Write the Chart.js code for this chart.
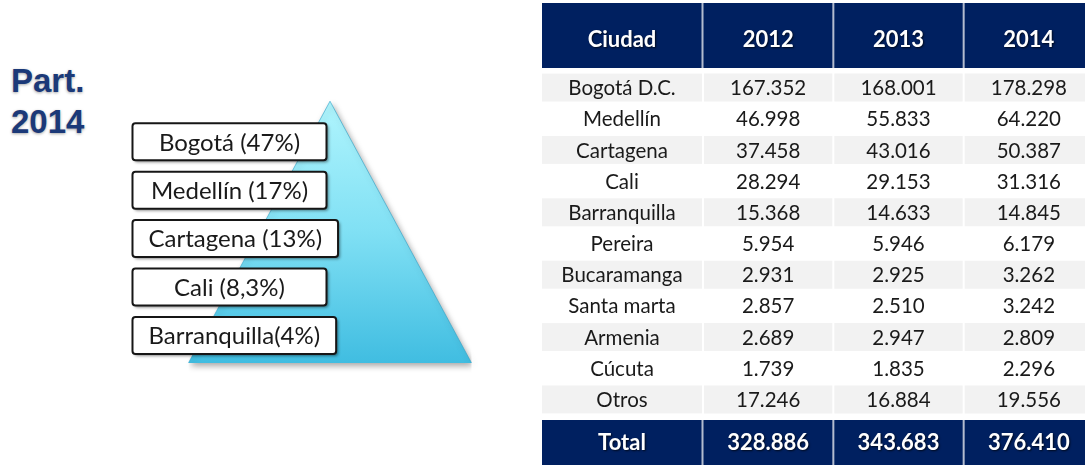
<!DOCTYPE html>
<html lang="es">
<head>
  <meta charset="UTF-8" />
  <title>Participación por ciudad 2012-2014</title>
  <script src="https://cdn.jsdelivr.net/npm/chart.js"></script>
  <style>
    html, body {
      margin: 0;
      padding: 0;
      background: #ffffff;
      width: 1085px;
      height: 465px;
      overflow: hidden;
    }
    #title {
      position: absolute;
      left: 11px;
      top: 60px;
      font: bold 33px "Liberation Sans", Arial, sans-serif;
      line-height: 41px;
      color: #1b3978;
      text-shadow: 0 1px 3px rgba(0, 0, 0, 0.35);
    }
    #pyramid-box {
      position: absolute;
      left: 0;
      top: 0;
      width: 530px;
      height: 465px;
    }
    #table-box {
      position: absolute;
      left: 540px;
      top: 0;
      width: 556px;
      height: 465px;
    }
  </style>
</head>
<body>
  <div id="title">Part.<br>2014</div>
  <div id="pyramid-box"><canvas id="pyramidChart"></canvas></div>
  <div id="table-box"><canvas id="tableChart"></canvas></div>

  <script>
    // pyramid (share 2014)
    const shareLabels = ['Bogotá (47%)', 'Medellín (17%)', 'Cartagena (13%)', 'Cali (8,3%)', 'Barranquilla(4%)'];
    const pyramidX = [0, 0.5, 1];
    const pyramidY = [0, 1, 0];

    // table
    const headerFirst = 'Ciudad';
    const totalLabel = 'Total';
    const years = ['2012', '2013', '2014'];
    const cities = ['Bogotá D.C.', 'Medellín', 'Cartagena', 'Cali', 'Barranquilla', 'Pereira',
                    'Bucaramanga', 'Santa marta', 'Armenia', 'Cúcuta', 'Otros'];
    const v2012 = [167352, 46998, 37458, 28294, 15368, 5954, 2931, 2857, 2689, 1739, 17246];
    const v2013 = [168001, 55833, 43016, 29153, 14633, 5946, 2925, 2510, 2947, 1835, 16884];
    const v2014 = [178298, 64220, 50387, 31316, 14845, 6179, 3262, 3242, 2809, 2296, 19556];
    const totals = [328886, 343683, 376410];

    const NAVY = '#002060';
    const ROW_GRAY = '#f2f2f2';
    const TEXT = '#1a1a1a';
    const valuesByYear = [v2012, v2013, v2014];

    function fmt(n) {
      return String(n).replace(/\B(?=(\d{3})+(?!\d))/g, '.');
    }

    // ---------- pyramid ----------
    const pyramidPlugin = {
      id: 'pyramidLabels',
      beforeDraw(chart) {
        const ctx = chart.ctx;
        ctx.save();
        ctx.shadowColor = 'rgba(0,0,0,0.35)';
        ctx.shadowBlur = 6;
        ctx.shadowOffsetX = 2;
        ctx.shadowOffsetY = 3;
      },
      afterDatasetsDraw(chart) {
        const { ctx, scales: { x, y } } = chart;
        ctx.restore();
        ctx.save();
        ctx.font = '24px Lato, "Open Sans", sans-serif';
        const left = x.getPixelForValue(0) - 56;
        const h = 37;
        shareLabels.forEach((t, i) => {
          const cy = y.getPixelForValue(0.845 - i * 0.185);
          const w = Math.max(194, ctx.measureText(t).width + 32);
          ctx.shadowColor = 'rgba(0,0,0,0.45)';
          ctx.shadowBlur = 3;
          ctx.shadowOffsetX = 2;
          ctx.shadowOffsetY = 2;
          ctx.beginPath();
          ctx.roundRect(left, cy - h / 2, w, h, 3);
          ctx.fillStyle = '#ffffff';
          ctx.fill();
          ctx.shadowColor = 'transparent';
          ctx.lineWidth = 2;
          ctx.strokeStyle = '#161616';
          ctx.stroke();
          ctx.fillStyle = TEXT;
          ctx.textAlign = 'center';
          ctx.textBaseline = 'middle';
          ctx.fillText(t, left + w / 2, cy + 1);
        });
        ctx.restore();
      }
    };

    new Chart(document.getElementById('pyramidChart'), {
      type: 'line',
      data: {
        datasets: [{
          label: 'Part. 2014',
          data: pyramidX.map((v, i) => ({ x: v, y: pyramidY[i] })),
          fill: 'origin',
          tension: 0,
          pointRadius: 0,
          borderWidth: 1,
          borderColor: 'rgba(40,160,200,0.6)',
          backgroundColor(context) {
            const { ctx, chartArea, scales } = context.chart;
            if (!chartArea) return '#7fdcf2';
            const g = ctx.createLinearGradient(0, scales.y.getPixelForValue(1), 0, scales.y.getPixelForValue(0));
            g.addColorStop(0, '#b0f5fd');
            g.addColorStop(0.5, '#80e0f4');
            g.addColorStop(1, '#40bde1');
            return g;
          }
        }]
      },
      options: {
        responsive: true,
        maintainAspectRatio: false,
        animation: false,
        layout: { padding: { left: 180, right: 50, top: 96, bottom: 89 } },
        scales: {
          x: { type: 'linear', min: -0.03, max: 1.03, display: false },
          y: { type: 'linear', min: -0.05, max: 1.02, display: false }
        },
        plugins: {
          legend: { display: false },
          tooltip: { enabled: false },
          filler: { drawTime: 'beforeDatasetsDraw' }
        }
      },
      plugins: [pyramidPlugin]
    });

    // ---------- table ----------
    const tablePlugin = {
      id: 'tableCells',
      beforeDatasetsDraw(chart) {
        const { ctx, chartArea, scales: { y } } = chart;
        const rowH = (chartArea.bottom - chartArea.top) / cities.length;
        ctx.save();
        ctx.fillStyle = ROW_GRAY;
        cities.forEach((c, i) => {
          if (i % 2) return;
          const cy = y.getPixelForValue(i);
          const h = rowH * 0.96 - 2;
          ctx.fillRect(2, cy - h / 2, chartArea.left - 3, h);
        });
        ctx.restore();
      },
      afterDatasetsDraw(chart) {
        const { ctx, chartArea, scales: { x, y } } = chart;
        const firstMid = (2 + chartArea.left - 1) / 2;
        ctx.save();

        // body text
        ctx.fillStyle = TEXT;
        ctx.textAlign = 'center';
        ctx.textBaseline = 'middle';
        ctx.font = '20.5px Lato, "Open Sans", sans-serif';
        cities.forEach((c, i) => {
          const cy = y.getPixelForValue(i) + 1;
          ctx.fillText(c, firstMid, cy);
          valuesByYear.forEach((vals, col) => {
            ctx.fillText(fmt(vals[i]), x.getPixelForValue(col + 0.5), cy);
          });
        });

        // header + total rows
        const bands = [
          { top: 3, bottom: chartArea.top - 4, base: 47, first: headerFirst, cells: years },
          { top: chartArea.bottom + 5, bottom: chart.height, base: chartArea.bottom + 35, first: totalLabel, cells: totals.map(fmt) }
        ];
        bands.forEach(b => {
          ctx.fillStyle = NAVY;
          ctx.fillRect(2, b.top, chartArea.right - 2, b.bottom - b.top);
          ctx.strokeStyle = '#b3bccf';
          ctx.lineWidth = 2;
          [chartArea.left - 0.5, x.getPixelForValue(1), x.getPixelForValue(2)].forEach(px => {
            ctx.beginPath();
            ctx.moveTo(px, b.top);
            ctx.lineTo(px, b.bottom);
            ctx.stroke();
          });
          ctx.font = 'bold 22px Lato, "Open Sans", sans-serif';
          ctx.textBaseline = 'alphabetic';
          ctx.fillStyle = '#ffffff';
          ctx.shadowColor = 'rgba(0,0,0,0.7)';
          ctx.shadowBlur = 2;
          ctx.shadowOffsetX = 1;
          ctx.shadowOffsetY = 1;
          ctx.fillText(b.first, firstMid, b.base);
          b.cells.forEach((t, col) => ctx.fillText(t, x.getPixelForValue(col + 0.5), b.base));
          ctx.shadowColor = 'transparent';
        });
        ctx.restore();
      }
    };

    new Chart(document.getElementById('tableChart'), {
      type: 'bar',
      data: {
        labels: cities,
        datasets: years.map((yr, col) => ({
          label: yr,
          data: cities.map(() => [col, col + 1]),
          backgroundColor: ctx => (ctx.dataIndex % 2 === 0 ? ROW_GRAY : '#ffffff'),
          borderColor: '#ffffff',
          borderWidth: 1,
          borderSkipped: false,
          barPercentage: 0.96,
          categoryPercentage: 1,
          grouped: false
        }))
      },
      options: {
        indexAxis: 'y',
        responsive: true,
        maintainAspectRatio: false,
        animation: false,
        layout: { padding: { left: 163, right: 2, top: 72, bottom: 50 } },
        scales: {
          x: { type: 'linear', min: 0, max: 3, display: false },
          y: { display: false }
        },
        plugins: {
          legend: { display: false },
          tooltip: { enabled: false }
        }
      },
      plugins: [tablePlugin]
    });
  </script>
</body>
</html>
